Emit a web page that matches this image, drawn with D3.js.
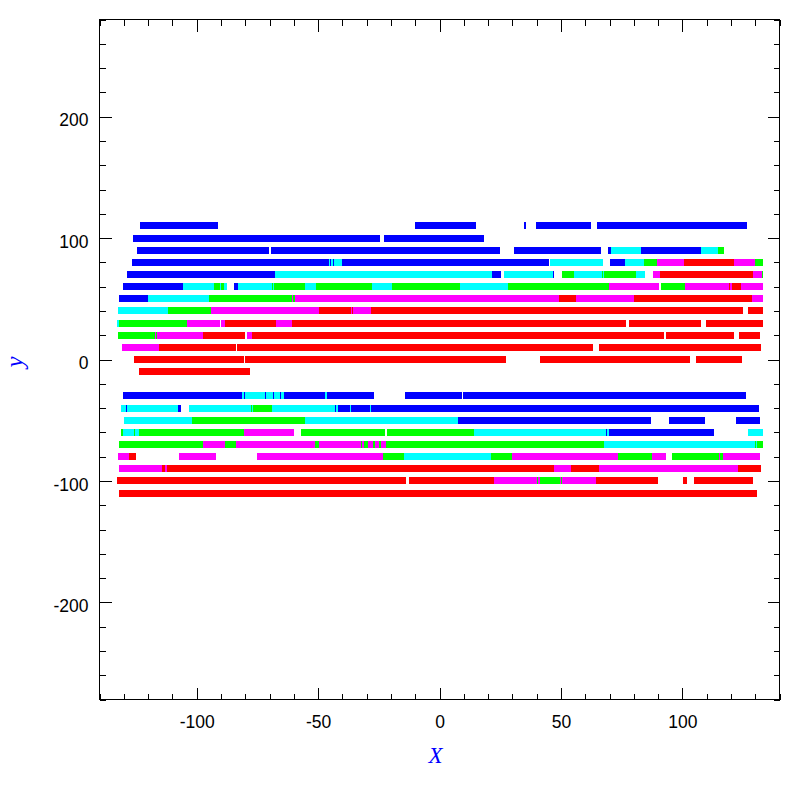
<!DOCTYPE html>
<html>
<head>
<meta charset="utf-8">
<script src="https://cdn.jsdelivr.net/npm/d3@7"></script>
<style>
  html, body { margin: 0; padding: 0; background: #ffffff; }
  svg { display: block; }
</style>
</head>
<body>
<svg id="chart" width="797" height="797"></svg>
<script>
// ---------------- DATA ----------------
const xMajorTicks = [-100, -50, 0, 50, 100];
const xTickLabels = ["-100", "-50", "0", "50", "100"];
const yMajorTicks = [-200, -100, 0, 100, 200];
const yTickLabels = ["-200", "-100", "0", "100", "200"];
const xMinorTicks = [-140,-130,-120,-110,-90,-80,-70,-60,-40,-30,-20,-10,10,20,30,40,60,70,80,90,110,120,130,140];
const yMinorTicks = [-280,-260,-240,-220,-180,-160,-140,-120,-80,-60,-40,-20,20,40,60,80,120,140,160,180,220,240,260,280];
const xLabel = "X";
const yLabel = "y";

const rowYs = [110, 100, 90, 80, 70, 60, 50, 40, 30, 20, 10, 0, -10,
               -30, -40, -50, -60, -70, -80, -90, -100, -110];

// segments per row: [xStart, xEnd, colourKey]
const row110 = [[-123.2,-91.1,"B"],[-10.0,15.0,"B"],[34.9,35.7,"B"],[39.9,62.5,"B"],[65.0,126.7,"B"]];
const row100 = [[-126.2,-24.4,"B"],[-22.7,18.3,"B"]];
const row90 = [[-124.4,-70.1,"B"],[-69.3,25.0,"B"],[30.8,66.6,"B"],[69.5,70.7,"B"],[70.7,83.1,"C"],[83.1,107.8,"B"],[107.8,114.8,"C"],[114.8,117.3,"G"]];
const row80 = [[-126.5,-45.7,"B"],[-45.7,-45.0,"C"],[-45.0,-44.6,"B"],[-44.6,-43.7,"C"],[-43.7,-43.3,"B"],[-43.3,-40.0,"C"],[-40.0,45.2,"B"],[45.6,67.4,"C"],[70.3,76.5,"B"],[76.5,84.3,"C"],[84.3,89.6,"G"],[89.6,100.8,"M"],[100.8,121.4,"R"],[121.4,130.0,"M"],[130.0,133.3,"G"]];
const row70 = [[-128.6,-68.7,"B"],[-68.7,-68.4,"C"],[-68.4,-67.6,"B"],[-67.6,21.7,"C"],[21.7,25.3,"B"],[26.7,46.6,"C"],[46.6,47.3,"B"],[50.6,55.5,"G"],[55.5,67.0,"C"],[67.0,67.4,"G"],[67.4,67.9,"C"],[67.9,81.0,"G"],[81.0,84.7,"C"],[88.0,90.9,"M"],[90.9,129.2,"R"],[129.2,132.9,"M"],[132.9,133.3,"G"]];
const row60 = [[-130.2,-105.6,"B"],[-105.6,-92.7,"C"],[-92.7,-90.3,"G"],[-90.3,-89.9,"C"],[-89.9,-88.6,"G"],[-88.6,-87.5,"C"],[-84.5,-82.8,"B"],[-82.8,-68.8,"C"],[-68.8,-68.4,"G"],[-68.4,-68.0,"C"],[-68.0,-55.3,"G"],[-55.3,-50.7,"C"],[-50.7,-27.7,"G"],[-27.7,-19.4,"C"],[-19.4,8.6,"G"],[8.6,28.3,"C"],[28.3,69.9,"G"],[69.9,90.5,"M"],[91.3,101.2,"G"],[101.2,119.3,"M"],[119.3,119.7,"R"],[119.7,120.6,"M"],[120.6,124.3,"R"],[124.3,133.3,"M"]];
const row50 = [[-131.9,-119.9,"B"],[-119.9,-94.8,"C"],[-94.8,-60.6,"G"],[-60.6,-60.2,"M"],[-60.2,-59.4,"G"],[-59.4,49.1,"M"],[49.1,56.3,"R"],[56.3,80.2,"M"],[80.2,128.8,"R"],[128.8,133.3,"M"]];
const row40 = [[-132.3,-111.7,"C"],[-111.7,-94.0,"G"],[-94.0,-49.5,"M"],[-49.5,-36.3,"R"],[-36.3,-35.9,"M"],[-35.9,-35.5,"R"],[-35.5,-28.1,"M"],[-28.1,125.0,"R"],[127.1,133.3,"R"]];
const row30 = [[-132.7,-131.9,"C"],[-131.9,-103.9,"G"],[-103.9,-90.3,"M"],[-89.9,-88.2,"M"],[-88.2,-67.2,"R"],[-67.2,-60.6,"M"],[-60.6,76.9,"R"],[78.2,107.8,"R"],[109.9,133.3,"R"]];
const row20 = [[-132.3,-117.1,"G"],[-117.1,-116.7,"M"],[-116.7,-116.3,"G"],[-116.3,-97.3,"M"],[-97.3,-80.0,"R"],[-79.1,-77.1,"M"],[-77.1,92.5,"R"],[93.3,121.4,"R"],[123.5,132.1,"R"]];
const row10 = [[-130.6,-115.4,"M"],[-115.4,-83.7,"R"],[-83.3,63.3,"R"],[65.8,132.5,"R"]];
const row0 = [[-125.7,-80.4,"R"],[-80.0,27.5,"R"],[41.5,103.3,"R"],[105.7,124.7,"R"]];
const rowM10 = [[-123.6,-77.9,"R"]];
const rowM30 = [[-130.2,-81.2,"B"],[-81.2,-80.4,"C"],[-80.4,-80.0,"B"],[-80.0,-71.7,"C"],[-71.7,-71.3,"B"],[-71.3,-68.4,"C"],[-68.4,-68.0,"B"],[-68.0,-65.6,"C"],[-65.6,-65.2,"B"],[-65.2,-64.0,"C"],[-64.0,-47.0,"B"],[-47.0,-46.3,"C"],[-46.3,-26.8,"B"],[-14.1,9.3,"B"],[9.7,126.3,"B"]];
const rowM40 = [[-131.0,-128.9,"C"],[-128.9,-128.5,"B"],[-128.5,-107.5,"C"],[-107.5,-106.3,"B"],[-103.0,-77.5,"C"],[-77.5,-77.1,"G"],[-77.1,-76.7,"C"],[-76.7,-68.8,"G"],[-68.8,-42.9,"C"],[-42.9,-42.5,"B"],[-42.5,-41.8,"C"],[-41.8,-36.7,"B"],[-36.7,-36.3,"C"],[-36.3,-28.5,"B"],[-28.5,-28.1,"C"],[-28.1,131.7,"B"]];
const rowM50 = [[-129.8,-101.8,"C"],[-101.8,-55.3,"G"],[-55.3,7.7,"C"],[7.7,87.2,"B"],[94.6,109.4,"B"],[122.1,132.1,"B"]];
const rowM60 = [[-131.0,-130.2,"G"],[-130.2,-125.7,"C"],[-125.7,-125.3,"G"],[-125.3,-123.6,"C"],[-123.6,-80.4,"G"],[-80.4,-59.8,"M"],[-56.9,-22.3,"G"],[-21.5,14.3,"G"],[14.3,68.7,"C"],[68.7,69.1,"B"],[69.1,69.9,"C"],[69.9,113.2,"B"],[127.1,133.3,"C"]];
const rowM70 = [[-131.9,-97.3,"G"],[-97.3,-88.2,"M"],[-88.2,-83.7,"G"],[-83.7,-51.1,"M"],[-51.1,-49.5,"G"],[-49.5,-32.2,"M"],[-32.2,-31.8,"G"],[-31.8,-31.0,"M"],[-31.0,-29.3,"G"],[-29.3,-27.3,"M"],[-27.3,-26.4,"G"],[-26.4,-24.8,"M"],[-24.8,-24.0,"G"],[-24.0,-21.9,"M"],[-21.9,67.7,"G"],[67.7,130.0,"C"],[130.0,130.4,"G"],[130.4,130.8,"C"],[130.8,133.3,"G"]];
const rowM80 = [[-132.3,-127.7,"M"],[-127.7,-124.8,"R"],[-107.2,-91.9,"M"],[-75.0,-23.1,"M"],[-23.1,-14.5,"G"],[-14.5,21.3,"C"],[21.3,30.0,"G"],[30.0,73.6,"M"],[73.6,87.6,"G"],[87.6,93.4,"M"],[95.9,115.2,"G"],[115.2,115.6,"M"],[115.6,116.8,"G"],[116.8,132.1,"M"]];
const rowM90 = [[-131.9,-114.2,"M"],[-114.2,-113.0,"R"],[-113.0,-112.1,"M"],[-112.1,47.3,"R"],[47.3,54.3,"M"],[54.3,65.8,"R"],[65.8,123.1,"M"],[123.1,132.5,"R"]];
const rowM100 = [[-132.7,-13.7,"R"],[-12.4,22.6,"R"],[22.6,40.3,"M"],[40.3,40.7,"G"],[40.7,41.5,"M"],[41.5,49.7,"G"],[49.7,50.1,"M"],[50.1,50.6,"G"],[50.6,64.6,"M"],[64.6,90.1,"R"],[100.4,102.0,"R"],[104.9,129.2,"R"]];
const rowM110 = [[-131.9,130.8,"R"]];

const rowSegments = [row110, row100, row90, row80, row70, row60, row50, row40, row30, row20, row10, row0, rowM10,
                     rowM30, rowM40, rowM50, rowM60, rowM70, rowM80, rowM90, rowM100, rowM110];

// ---------------- STYLE ----------------
const colours = { B: "#0000ff", C: "#00ffff", G: "#00ff00", M: "#ff00ff", R: "#ff0000" };
const barThickness = 7;
const tickFont = "'Liberation Sans', Arial, Helvetica, sans-serif";

// ---------------- DRAW ----------------
const svg = d3.select("#chart");
const x = d3.scaleLinear().domain([-140, 140]).range([99.5, 779.5]);
const y = d3.scaleLinear().domain([-280, 280]).range([699.5, 19.5]);

// bars
const segs = [];
rowYs.forEach((ry, i) => rowSegments[i].forEach(s => segs.push({ y: ry, x0: s[0], x1: s[1], c: s[2] })));
svg.append("g")
  .attr("shape-rendering", "crispEdges")
  .selectAll("rect")
  .data(segs)
  .join("rect")
  .attr("x", d => x(d.x0))
  .attr("width", d => Math.max(0.8, x(d.x1) - x(d.x0)))
  .attr("y", d => y(d.y) - barThickness / 2)
  .attr("height", barThickness)
  .attr("fill", d => colours[d.c]);

// axes
function styleAxis(g) {
  g.select(".domain").remove();
  g.selectAll(".tick line").attr("stroke", "#000").attr("stroke-width", 1).attr("shape-rendering", "crispEdges");
  g.selectAll("text").attr("fill", "#000").style("font-family", tickFont).style("font-size", "17.5px");
}
const fmtX = d => xTickLabels[xMajorTicks.indexOf(d)];
const fmtY = d => yTickLabels[yMajorTicks.indexOf(d)];

svg.append("g").attr("transform", `translate(0,${y(-280)})`)
  .call(d3.axisBottom(x).tickValues(xMajorTicks).tickSizeInner(-12).tickSizeOuter(0).tickPadding(16).tickFormat(fmtX))
  .call(styleAxis);
svg.append("g").attr("transform", `translate(0,${y(-280)})`)
  .call(d3.axisBottom(x).tickValues(xMinorTicks).tickSizeInner(-6).tickSizeOuter(0).tickFormat(""))
  .call(styleAxis);
svg.append("g").attr("transform", `translate(0,${y(280)})`)
  .call(d3.axisTop(x).tickValues(xMajorTicks).tickSizeInner(-12).tickSizeOuter(0).tickFormat(""))
  .call(styleAxis);
svg.append("g").attr("transform", `translate(0,${y(280)})`)
  .call(d3.axisTop(x).tickValues(xMinorTicks).tickSizeInner(-6).tickSizeOuter(0).tickFormat(""))
  .call(styleAxis);

const leftAxis = svg.append("g").attr("transform", `translate(${x(-140)},0)`)
  .call(d3.axisLeft(y).tickValues(yMajorTicks).tickSizeInner(-12).tickSizeOuter(0).tickPadding(11).tickFormat(fmtY))
  .call(styleAxis);
leftAxis.selectAll("text").attr("dy", "0.53em");
svg.append("g").attr("transform", `translate(${x(-140)},0)`)
  .call(d3.axisLeft(y).tickValues(yMinorTicks).tickSizeInner(-6).tickSizeOuter(0).tickFormat(""))
  .call(styleAxis);
svg.append("g").attr("transform", `translate(${x(140)},0)`)
  .call(d3.axisRight(y).tickValues(yMajorTicks).tickSizeInner(-12).tickSizeOuter(0).tickFormat(""))
  .call(styleAxis);
svg.append("g").attr("transform", `translate(${x(140)},0)`)
  .call(d3.axisRight(y).tickValues(yMinorTicks).tickSizeInner(-6).tickSizeOuter(0).tickFormat(""))
  .call(styleAxis);

// frame
svg.append("rect")
  .attr("x", x(-140)).attr("y", y(280))
  .attr("width", x(140) - x(-140)).attr("height", y(-280) - y(280))
  .attr("fill", "none").attr("stroke", "#000").attr("stroke-width", 1)
  .attr("shape-rendering", "crispEdges");

// axis titles
svg.append("text")
  .attr("x", (x(-140) + x(140)) / 2 - 4)
  .attr("y", 763)
  .attr("text-anchor", "middle")
  .attr("fill", "#0000ff")
  .style("font-family", "'Liberation Serif', 'Times New Roman', serif")
  .style("font-style", "italic")
  .style("font-size", "23px")
  .text(xLabel);

svg.append("text")
  .attr("transform", "translate(23,362) rotate(-90)")
  .attr("text-anchor", "middle")
  .attr("fill", "#0000ff")
  .style("font-family", "'Liberation Serif', 'Times New Roman', serif")
  .style("font-style", "italic")
  .style("font-size", "25px")
  .text(yLabel);
</script>
</body>
</html>
